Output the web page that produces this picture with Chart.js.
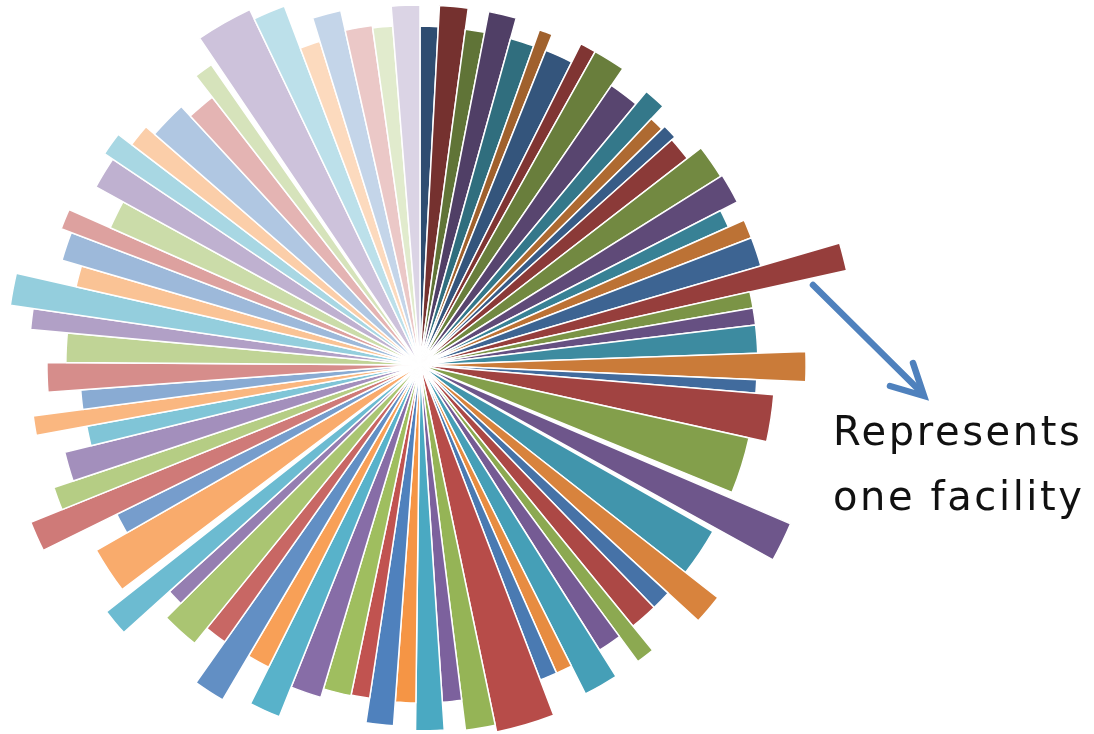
<!DOCTYPE html>
<html>
<head>
<meta charset="utf-8">
<script src="https://cdn.jsdelivr.net/npm/chart.js@4.4.0/dist/chart.umd.min.js"></script>
<style>
  html, body { margin: 0; padding: 0; background: #fff; overflow: hidden; }
  body { width: 1094px; height: 734px; position: relative; }
  #facilityChart { position: absolute; left: -30px; top: -85px; }
  .note {
    position: absolute; left: 833px; top: 399px;
    font-family: "DejaVu Sans", sans-serif; font-size: 40px; line-height: 65px;
    letter-spacing: 2.6px; color: #111; white-space: nowrap;
  }
  svg { position: absolute; left: 0; top: 0; }
</style>
</head>
<body>
<canvas id="facilityChart" width="900" height="900"></canvas>
<svg width="1094" height="734">
  <line x1="813" y1="285" x2="921" y2="392" stroke="#4f81bd" stroke-width="6.5" stroke-linecap="round"/>
  <polyline points="890,386 924,396 913,363" fill="none" stroke="#4f81bd" stroke-width="6.5" stroke-linecap="round" stroke-linejoin="miter"/>
</svg>
<div class="note">Represents<br>one facility</div>
<script>
// one entry per facility, clockwise from 12 o'clock; "" entries are blank gaps
var sliceAngles = [3.1, 4.6, 3.3, 4.5, 4.1, 2.2, 4.8, 2.6, 5.2, 5.2, 3.6, 2.5, 2.5, 4.1, 5.6, 4.9, 3.1, 3.1, 4.8, 3.7,
    2.8, 2.9, 4.8, 4.5, 2.3, 7.7, 9.7, 1.0, 5.7, 0.7, 8.4, 4.6, 3.4, 4.8, 2.9, 4.1, 5.5, 2.8, 3.0, 9.1,
    4.7, 3.3, 4.5, 3.5, 4.4, 3.2, 4.8, 5.2, 4.8, 3.9, 4.7, 3.8, 6.1, 2.8, 3.9, 1.2, 7.2, 3.6, 4.2, 3.5,
    4.7, 3.4, 2.9, 3.3, 4.6, 4.8, 3.1, 4.5, 3.5, 4.5, 3.1, 4.9, 5.0, 3.6, 3.6, 6.3, 4.9, 3.0, 0.8, 8.4,
    4.9, 3.5, 4.6, 4.6, 3.4, 4.6];
var sliceValues = [75.3, 80.0, 75.3, 80.0, 75.3, 79.1, 75.3, 79.8, 79.8, 75.3, 78.9, 75.1, 76.0, 75.1, 78.9, 79.3, 75.1, 78.9, 78.9, 97.1,
    75.1, 75.1, 75.1, 85.8, 74.9, 78.9, 74.9, 0, 89.6, 0, 74.9, 84.0, 74.9, 74.9, 81.8, 74.9, 81.8, 74.9, 74.9, 83.3,
    81.8, 75.1, 81.3, 75.1, 80.4, 74.9, 75.1, 77.1, 84.2, 75.1, 86.4, 75.3, 79.6, 75.1, 88.7, 0, 82.9, 75.1, 93.3, 85.8,
    81.3, 75.3, 86.7, 75.6, 82.9, 78.7, 86.9, 92.0, 78.4, 82.9, 85.3, 75.3, 82.2, 84.4, 80.7, 78.2, 75.3, 81.3, 0, 87.6,
    85.3, 75.3, 80.7, 76.2, 75.6, 80.0];
var gapIndexes = [27, 29, 55, 78];

var labels = [];
var n = 0;
for (var i = 0; i < sliceValues.length; i++) {
    if (gapIndexes.indexOf(i) >= 0) {
        labels.push("");
    } else {
        n++;
        labels.push("Facility " + n);
    }
}

var baseColors = [[79, 129, 189], [192, 80, 77], [155, 187, 89], [128, 100, 162], [75, 172, 198], [247, 150, 70]];
function facilityColor(k) {
    var c = baseColors[k % 6];
    var out = c.map(function(v) {
        if (k <= 42) return Math.round(v * (0.6 + 0.4 * k / 42));
        var t = 0.72 * (k - 42) / 39;
        return Math.round(v + (255 - v) * t);
    });
    return "rgb(" + out.join(",") + ")";
}

var colors = [];
var k = 0;
for (var j = 0; j < sliceValues.length; j++) {
    if (gapIndexes.indexOf(j) >= 0) {
        colors.push("rgba(0,0,0,0)");
    } else {
        colors.push(facilityColor(k));
        k++;
    }
}

document.addEventListener("DOMContentLoaded", function() {
    var ctx = document.getElementById("facilityChart").getContext("2d");
    new Chart(ctx, {
        type: "polarArea",
        data: {
            labels: labels,
            datasets: [{
                data: sliceValues,
                backgroundColor: colors,
                borderColor: "#ffffff",
                borderWidth: function(c) { return gapIndexes.indexOf(c.dataIndex) >= 0 ? 0 : 1.5; },
                angle: function(c) { return sliceAngles[c.dataIndex]; }
            }]
        },
        options: {
            responsive: false,
            animation: false,
            plugins: { legend: { display: false }, tooltip: { enabled: false } },
            scales: {
                r: {
                    display: false,
                    min: 0,
                    max: 100,
                    startAngle: 0,
                    ticks: { display: false },
                    grid: { display: false },
                    pointLabels: { display: false }
                }
            }
        }
    });
});
</script>
</body>
</html>
